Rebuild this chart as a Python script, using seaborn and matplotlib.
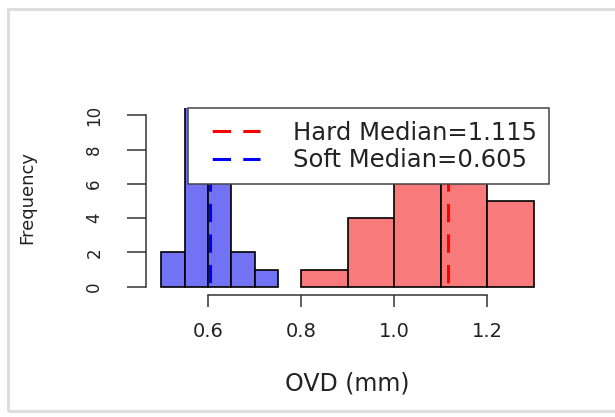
import numpy as np
import pandas as pd
import matplotlib
matplotlib.use("Agg")
import matplotlib.pyplot as plt
from matplotlib.patches import Rectangle
import seaborn as sns

# ---- data ----
soft_edges = [0.50, 0.55, 0.60, 0.65, 0.70, 0.75]
soft_counts = [2, 11, 9, 2, 1]
hard_edges = [0.80, 0.90, 1.00, 1.10, 1.20, 1.30]
hard_counts = [1, 4, 8, 9, 5]
hard_median = 1.115
soft_median = 0.605
x_ticks = [0.6, 0.8, 1.0, 1.2]
x_tick_labels = ["0.6", "0.8", "1.0", "1.2"]
y_ticks = [0, 2, 4, 6, 8, 10]

sns.set_style("white")
plt.rcParams["font.family"] = ["DejaVu Sans"]

soft_df = pd.DataFrame({
    "x": [(a + b) / 2 for a, b in zip(soft_edges[:-1], soft_edges[1:])],
    "w": soft_counts})
hard_df = pd.DataFrame({
    "x": [(a + b) / 2 for a, b in zip(hard_edges[:-1], hard_edges[1:])],
    "w": hard_counts})

fig = plt.figure(figsize=(6.15, 4.17), dpi=100)
ax = fig.add_axes([146.4 / 615, 1 - 294.5 / 417, (549 - 146.4) / 615, (294.5 - 108.4) / 417])

sns.histplot(data=soft_df, x="x", weights="w", bins=soft_edges, ax=ax,
             color="#7272F4", alpha=1, edgecolor="black", linewidth=1.2)
sns.histplot(data=hard_df, x="x", weights="w", bins=hard_edges, ax=ax,
             color="#F87A7A", alpha=1, edgecolor="black", linewidth=1.2)

dash = (6, (6, 4))
ax.axvline(hard_median, color="red", lw=2.2, ls=dash,
           label=f"Hard Median={hard_median}")
ax.axvline(soft_median, color="blue", lw=2.2, ls=dash,
           label=f"Soft Median={soft_median}")

ax.set_xlim(0.468, 1.332)
ax.set_ylim(-0.45, 10.4)

for s in ["top", "right"]:
    ax.spines[s].set_visible(False)
ax.spines["left"].set_bounds(0, 10)
ax.spines["bottom"].set_bounds(0.6, 1.2)
for s in ["left", "bottom"]:
    ax.spines[s].set_color("#333333")
    ax.spines[s].set_linewidth(1.1)

ax.set_xticks(x_ticks)
ax.set_xticklabels(x_tick_labels)
ax.set_yticks(y_ticks)
ax.set_yticklabels([str(v) for v in y_ticks], rotation=90, va="center")
ax.tick_params(bottom=True, left=True)
ax.tick_params(axis="x", direction="out", length=8.5, width=1.1, color="#333333",
               labelsize=14, pad=11, labelcolor="#222222")
ax.tick_params(axis="y", direction="out", length=14, width=1.1, color="#333333",
               labelsize=12, pad=17, labelcolor="#222222")

ax.set_xlabel("OVD (mm)", fontsize=17, color="#222222")
ax.set_ylabel("Frequency", fontsize=13, color="#222222")
ax.xaxis.set_label_coords(0.5, -(372 - 294.5) / 186.1)
ax.yaxis.set_label_coords(-(146.4 - 36) / 402.6, 0.52)

leg = ax.legend(loc="upper right", bbox_to_anchor=(1.0, 1.0), borderaxespad=0,
                fontsize=17.5, handlelength=2.47, handletextpad=1.36,
                borderpad=0.5, labelspacing=0.15, fancybox=False,
                framealpha=1, edgecolor="#444444")
leg.get_frame().set_linewidth(1.1)
for t in leg.get_texts():
    t.set_color("#222222")

fig.patches.append(Rectangle((8 / 615, 6 / 417), 1.0, (410 - 8) / 417,
                             transform=fig.transFigure, fill=False,
                             edgecolor="#DDDDDD", lw=2.2))

fig.savefig("out.png", dpi=100)
